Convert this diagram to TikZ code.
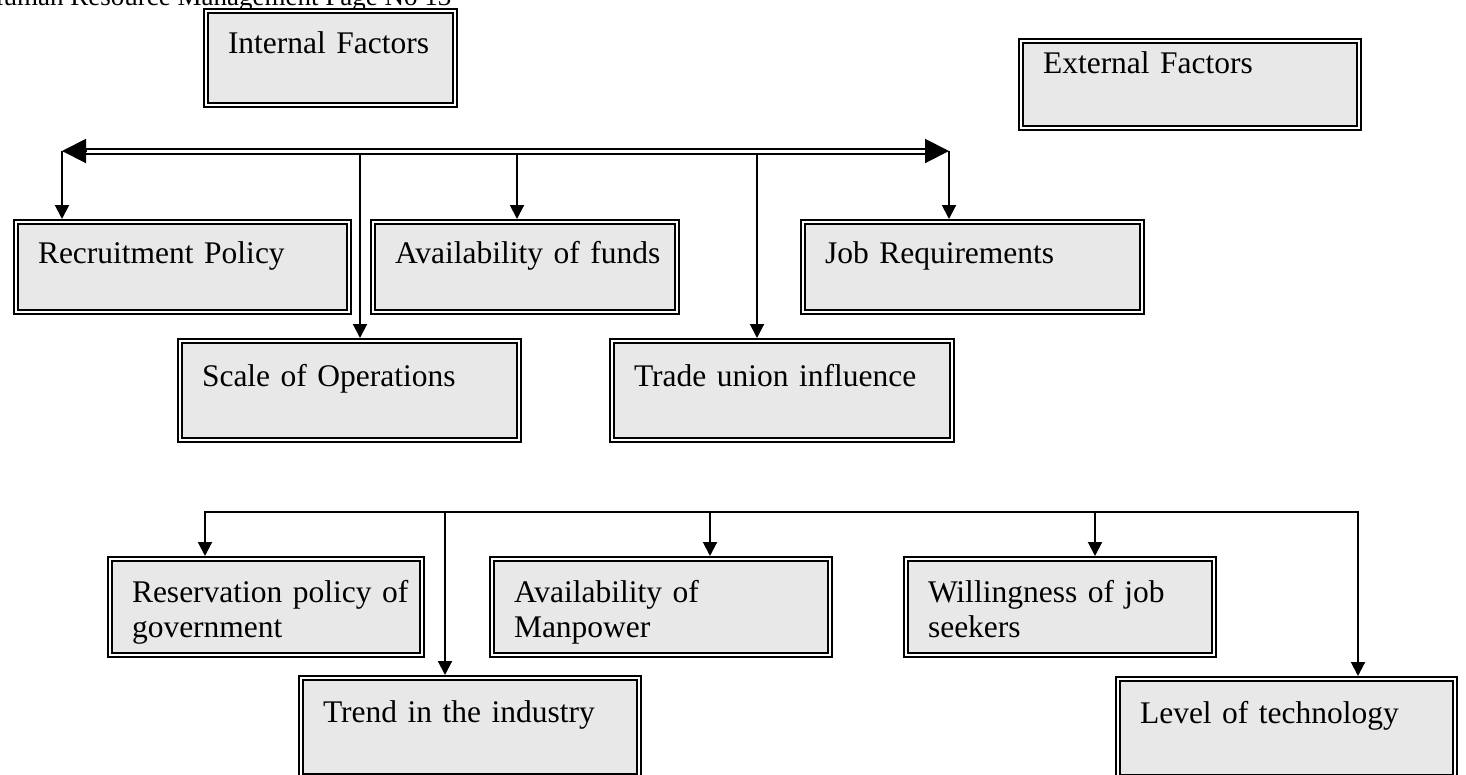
\documentclass[tikz,border=0pt]{standalone}
\usepackage{fontspec}
\setmainfont{Liberation Serif}
\usetikzlibrary{arrows.meta}
\definecolor{boxgray}{HTML}{E8E8E8}
\tikzset{
  factor/.style={draw, double, line width=2pt, double distance=2pt, fill=boxgray,
    anchor=north west, inner xsep=4pt, inner ysep=0pt, outer sep=3pt, align=left,
    font=\fontsize{31.5}{35}\selectfont, execute at begin node={\leftskip=18pt}},
  arr/.style={line width=2pt, -{Triangle[length=14pt,width=14pt]}},
  bigarr/.style={line width=2pt, -{Triangle[length=24pt,width=24pt]}},
  bus/.style={double, line width=2pt, double distance=3pt},
  wire/.style={line width=2pt, line cap=rect}
}
\begin{document}
\begin{tikzpicture}[x=1pt,y=-1pt]
  \useasboundingbox (0,0) rectangle (1466,774);
  \clip (0,0) rectangle (1466,774);
  % page header
  \node[anchor=base west, inner sep=0pt, font=\fontsize{27}{30}\selectfont] (header) at (-16,5) {Human Resource Management Page No 13};
  % the two heads
  \node[factor, text width=241pt, text height=42pt, text depth=52pt] (internal) at (203,8) {Internal Factors};
  \node[factor, text width=330pt, text height=32pt, text depth=55pt] (external) at (1018,38) {External Factors};
  % internal factors
  \node[factor, text width=325pt, text height=41pt, text depth=49pt] (recruit) at (13,219) {Recruitment Policy};
  \node[factor, text width=296pt, text height=41pt, text depth=49pt] (funds) at (370,219) {Availability of funds};
  \node[factor, text width=331pt, text height=41pt, text depth=49pt] (jobreq) at (800,219) {Job Requirements};
  \node[factor, text width=331pt, text height=45pt, text depth=54pt] (scale) at (177,338) {Scale of Operations};
  \node[factor, text width=332pt, text height=45pt, text depth=54pt] (trade) at (609,338) {Trade union influence};
  % external factors
  \node[factor, text width=304pt, text height=43pt, text depth=53pt] (reserv) at (107,556) {Reservation policy of\\government};
  \node[factor, text width=330pt, text height=43pt, text depth=53pt] (manpower) at (489,556) {Availability of\\Manpower};
  \node[factor, text width=300pt, text height=43pt, text depth=53pt] (willing) at (903,556) {Willingness of job\\seekers};
  \node[factor, text width=330pt, text height=44pt, text depth=54pt] (trend) at (298,675) {Trend in the industry};
  \node[factor, text width=329pt, text height=44pt, text depth=54pt] (level) at (1115,676) {Level of technology};

  % upper bus
  \coordinate (bus-l) at (62,151);
  \coordinate (bus-r) at (949,151);
  \coordinate (b-scale) at (360,151);
  \coordinate (b-funds) at (517,151);
  \coordinate (b-trade) at (757,151);
  \draw[arr] (bus-l) -- (bus-l |- recruit.north);
  \draw[arr] (b-scale) -- (b-scale |- scale.north);
  \draw[arr] (b-funds) -- (b-funds |- funds.north);
  \draw[arr] (b-trade) -- (b-trade |- trade.north);
  \draw[arr] (bus-r) -- (bus-r |- jobreq.north);
  \draw[bus, shorten <=22pt, shorten >=22pt] (bus-l) -- (bus-r);
  \draw[bigarr] ([xshift=24pt]bus-l) -- (bus-l);
  \draw[bigarr] ([xshift=-24pt]bus-r) -- (bus-r);

  % lower bus
  \coordinate (m-reserv) at (205,512);
  \coordinate (m-trend) at (445,512);
  \coordinate (m-manpower) at (710,512);
  \coordinate (m-willing) at (1095,512);
  \coordinate (m-level) at (1358,512);
  \draw[wire] (m-reserv) -- (m-level);
  \draw[arr] (m-reserv) -- (m-reserv |- reserv.north);
  \draw[arr] (m-trend) -- (m-trend |- trend.north);
  \draw[arr] (m-manpower) -- (m-manpower |- manpower.north);
  \draw[arr] (m-willing) -- (m-willing |- willing.north);
  \draw[arr] (m-level) -- (m-level |- level.north);
\end{tikzpicture}
\end{document}
